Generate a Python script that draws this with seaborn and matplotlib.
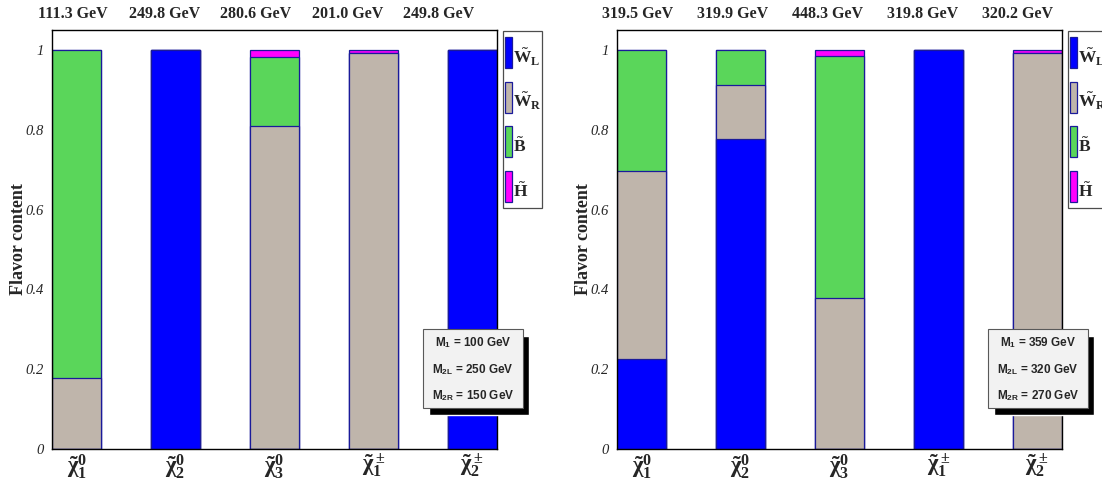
import pandas as pd
import seaborn as sns
import matplotlib.pyplot as plt
from matplotlib.patches import Rectangle
from matplotlib.ticker import MultipleLocator

# Данные: состав нейтралино/чарджино
particles = [r'$\tilde{\chi}^0_1$', r'$\tilde{\chi}^0_2$', r'$\tilde{\chi}^0_3$',
             r'$\tilde{\chi}^\pm_1$', r'$\tilde{\chi}^\pm_2$']
legend_labels = [r'$\tilde{W}_L$', r'$\tilde{W}_R$', r'$\tilde{B}$', r'$\tilde{H}$']

masses_a = ['111.3 GeV', '249.8 GeV', '280.6 GeV', '201.0 GeV', '249.8 GeV']
wl_a = [0.0, 1.0, 0.0, 0.0, 1.0]
wr_a = [0.177, 0.0, 0.81, 0.993, 0.0]
b_a = [0.823, 0.0, 0.172, 0.0, 0.0]
h_a = [0.0, 0.0, 0.018, 0.007, 0.0]
params_a = [('1', '100'), ('2L', '250'), ('2R', '150')]

masses_b = ['319.5 GeV', '319.9 GeV', '448.3 GeV', '319.8 GeV', '320.2 GeV']
wl_b = [0.225, 0.777, 0.0, 1.0, 0.0]
wr_b = [0.471, 0.136, 0.378, 0.0, 0.993]
b_b = [0.304, 0.087, 0.607, 0.0, 0.0]
h_b = [0.0, 0.0, 0.015, 0.0, 0.007]
params_b = [('1', '359'), ('2L', '320'), ('2R', '270')]

yticks = [0, 0.2, 0.4, 0.6, 0.8, 1.0]
ytick_labels = ['0', '0.2', '0.4', '0.6', '0.8', '1']

colors = ['#0000ff', '#bfb5ab', '#5ad65a', '#ff00ff']
edge = '#1a1a9a'

sns.set_style('white')
plt.rcParams['font.family'] = ['Liberation Serif', 'DejaVu Serif']
plt.rcParams['mathtext.fontset'] = 'custom'
plt.rcParams['mathtext.rm'] = 'Liberation Serif:bold'
plt.rcParams['mathtext.it'] = 'Liberation Serif:bold'
plt.rcParams['mathtext.bf'] = 'Liberation Serif:bold'
plt.rcParams['mathtext.sf'] = 'Liberation Sans:bold'
plt.rcParams['mathtext.default'] = 'rm'

W, H = 1102, 488
fig = plt.figure(figsize=(W / 100, H / 100), dpi=100)


def px_rect(x, y, w, h, **kw):
    # прямоугольник в пикселях фигуры (y сверху)
    fig.patches.append(Rectangle((x / W, 1 - (y + h) / H), w / W, h / H,
                                 transform=fig.transFigure, **kw))


def draw_panel(left_px, wl, wr, bino, higgs, masses, params, mass_x0, mass_step,
               leg_x, box_x):
    ax = fig.add_axes([left_px / W, 39 / H, 445 / W, 419 / H])
    df = pd.DataFrame({'particle': particles, 'wl': wl, 'wr': wr, 'b': bino, 'h': higgs})
    tops = df[['wl', 'wr', 'b', 'h']].cumsum(axis=1)
    # рисуем накопленные суммы сверху вниз
    for col, color in zip(['h', 'b', 'wr', 'wl'], colors[::-1]):
        sns.barplot(x=df['particle'], y=tops[col], order=particles, color=color,
                    saturation=1, width=0.5, edgecolor=edge, linewidth=0.9,
                    errorbar=None, ax=ax)
    ax.set_xlim(-0.25, 4.25)
    ax.set_ylim(0, 1.05)
    ax.set_xlabel('')
    ax.set_ylabel('Flavor content', fontweight='bold', fontsize=13, labelpad=-1)
    ax.set_xticks(range(len(particles)), labels=particles, fontsize=16.5)
    ax.set_yticks(yticks, labels=ytick_labels, fontstyle='italic', fontsize=10.5)
    ax.yaxis.set_minor_locator(MultipleLocator(0.05))
    ax.tick_params(axis='x', length=0, pad=2)
    ax.tick_params(axis='y', which='major', direction='in', length=6.5, width=0.8, pad=6)
    ax.tick_params(axis='y', which='minor', direction='in', length=4, width=0.8)
    for sp in ax.spines.values():
        sp.set_color('black')
        sp.set_linewidth(1)

    # массы над графиком
    for i, m in enumerate(masses):
        fig.text((mass_x0 + mass_step * i) / W, 1 - 14 / H, m, ha='center', va='center',
                 fontweight='bold', fontsize=11.5)

    # легенда (узкая рамка, как в оригинале)
    px_rect(leg_x, 31, 39, 177, facecolor='white', edgecolor='0.3', linewidth=0.9, zorder=2)
    for k, (c, lab) in enumerate(zip(colors, legend_labels)):
        top = 37 + 44.7 * k
        px_rect(leg_x + 2, top, 7, 31, facecolor=c, edgecolor=edge, linewidth=0.9, zorder=3)
        fig.text((leg_x + 10) / W, 1 - (top + 20) / H, lab, ha='left', va='center',
                 fontsize=12.5, zorder=4)

    # блок с параметрами
    bw, bh = 100, 79
    px_rect(box_x + 6, 336, bw, bh, facecolor='black', zorder=2)
    px_rect(box_x, 329, bw, bh, facecolor='#f2f2f2', edgecolor='0.35', linewidth=0.8, zorder=3)
    for j, (sub, val) in enumerate(params):
        fig.text((box_x + bw / 2) / W, 1 - (343 + 26.5 * j) / H,
                 r'M$_\mathsf{' + sub + r'}$ = ' + val + ' GeV',
                 ha='center', va='center', family='Liberation Sans',
                 fontweight='bold', fontsize=8.5, zorder=4)
    return ax


draw_panel(52, wl_a, wr_a, b_a, h_a, masses_a, params_a, 72.5, 91.6, 503, 423)
draw_panel(617, wl_b, wr_b, b_b, h_b, masses_b, params_b, 638, 95, 1068, 988)

fig.savefig('out.png', dpi=100)
